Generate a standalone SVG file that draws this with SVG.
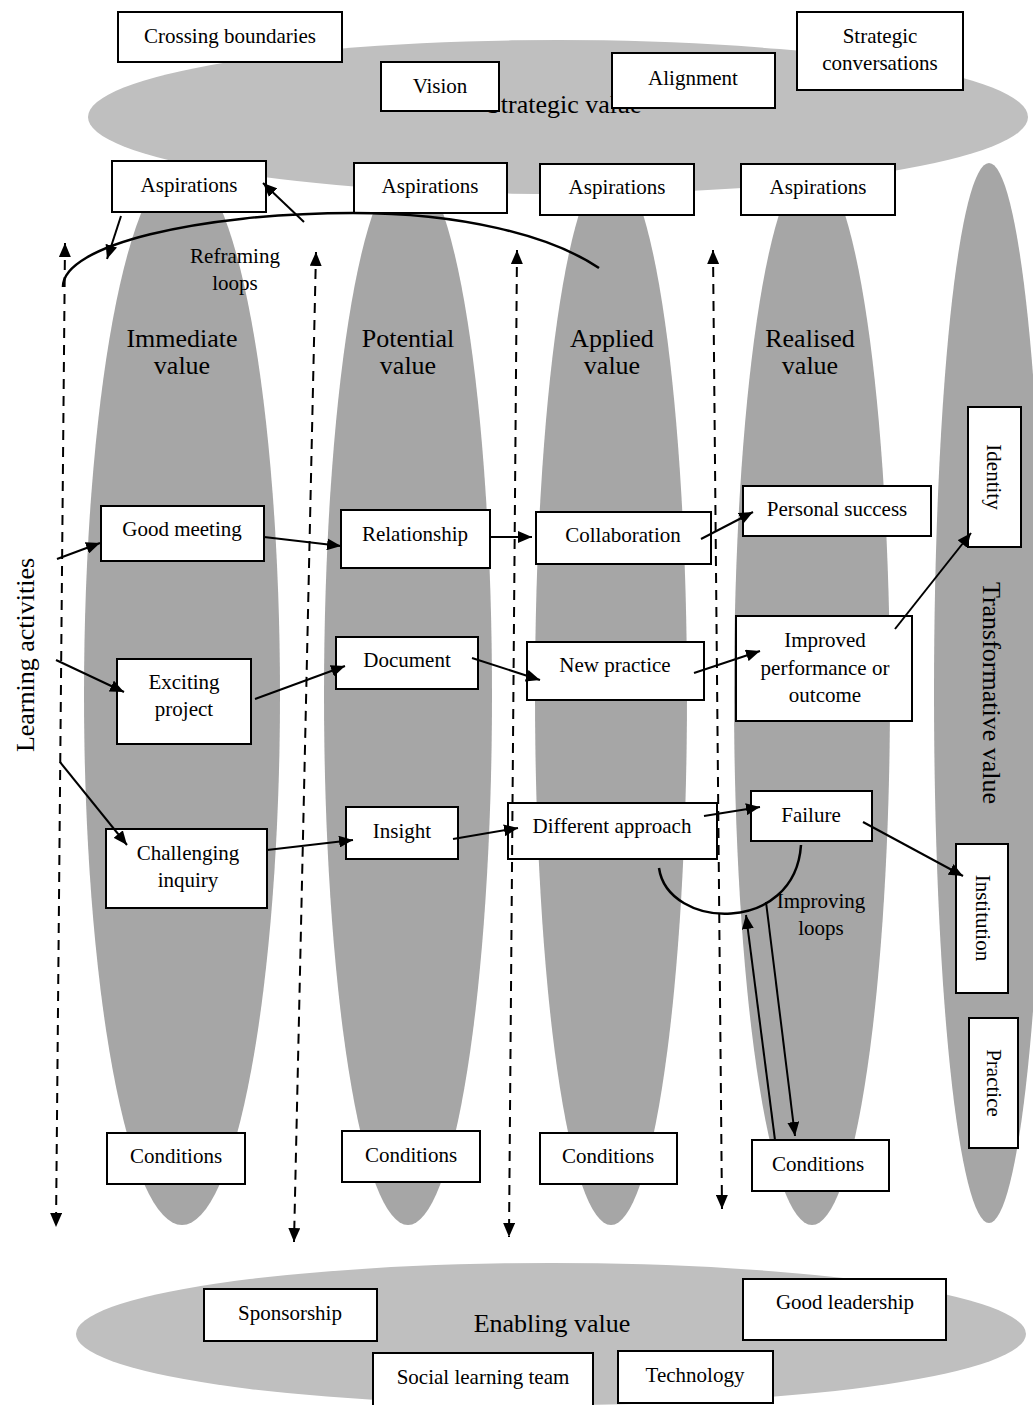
<svg xmlns="http://www.w3.org/2000/svg" width="1033" height="1405" viewBox="0 0 1033 1405">
  <defs>
    <style>
      .band { fill: #bfbfbf; }
      .col { fill: #a6a6a6; }
      .node rect { fill: #ffffff; stroke: #000000; stroke-width: 2; }
      text { font-family: "Liberation Serif", "Times New Roman", serif; fill: #000000; }
      .t { font-size: 21px; text-anchor: middle; }
      .big { font-size: 26px; text-anchor: middle; }
      .ln { fill: none; stroke: #000000; stroke-width: 2; }
      .arc { fill: none; stroke: #000000; stroke-width: 2.5; }
      .dash { stroke-dasharray: 10 7; }
    </style>
    <marker id="head" markerUnits="userSpaceOnUse" markerWidth="14" markerHeight="12" refX="14" refY="6" orient="auto-start-reverse">
      <path d="M0,0 L14,6 L0,12 z" fill="#000000"/>
    </marker>
  </defs>

  <rect width="1033" height="1405" fill="#ffffff"/>

  <!-- value bands -->
  <g id="bands">
    <ellipse class="band" cx="558" cy="117" rx="470" ry="77"/>
    <ellipse class="band" cx="551" cy="1334" rx="475" ry="71"/>
    <ellipse class="col" cx="182" cy="695" rx="98" ry="530"/>
    <ellipse class="col" cx="408" cy="695" rx="84" ry="530"/>
    <ellipse class="col" cx="611" cy="695" rx="76" ry="530"/>
    <ellipse class="col" cx="812" cy="695" rx="78" ry="530"/>
    <ellipse class="col" cx="989" cy="693" rx="55" ry="530"/>
  </g>

  <!-- band titles -->
  <g id="band-labels">
    <text class="big" x="564" y="113">Strategic value</text>
    <text class="big" x="552" y="1332">Enabling value</text>
    <text class="big" x="182" y="347">Immediate<tspan x="182" dy="27">value</tspan></text>
    <text class="big" x="408" y="347">Potential<tspan x="408" dy="27">value</tspan></text>
    <text class="big" x="612" y="347">Applied<tspan x="612" dy="27">value</tspan></text>
    <text class="big" x="810" y="347">Realised<tspan x="810" dy="27">value</tspan></text>
    <text class="big" transform="translate(983,693) rotate(90)">Transformative value</text>
    <text class="big" transform="translate(34,655) rotate(-90)">Learning activities</text>
    <text class="t" x="235" y="263">Reframing<tspan x="235" dy="27">loops</tspan></text>
    <text class="t" x="821" y="908">Improving<tspan x="821" dy="27">loops</tspan></text>
  </g>

  <!-- strategic band -->
  <g id="crossing-boundaries" class="node"><rect x="118" y="12" width="224" height="50"/><text class="t" x="230" y="43">Crossing boundaries</text></g>
  <g id="vision" class="node"><rect x="381" y="62" width="118" height="49"/><text class="t" x="440" y="93">Vision</text></g>
  <g id="alignment" class="node"><rect x="612" y="53" width="163" height="55"/><text class="t" x="693" y="85">Alignment</text></g>
  <g id="strategic-conversations" class="node"><rect x="797" y="12" width="166" height="78"/><text class="t" x="880" y="43">Strategic<tspan x="880" dy="27">conversations</tspan></text></g>

  <!-- aspirations -->
  <g id="aspirations-1" class="node"><rect x="112" y="161" width="154" height="51"/><text class="t" x="189" y="192">Aspirations</text></g>
  <g id="aspirations-2" class="node"><rect x="354" y="163" width="153" height="50"/><text class="t" x="430" y="193">Aspirations</text></g>
  <g id="aspirations-3" class="node"><rect x="540" y="164" width="154" height="51"/><text class="t" x="617" y="194">Aspirations</text></g>
  <g id="aspirations-4" class="node"><rect x="741" y="164" width="154" height="51"/><text class="t" x="818" y="194">Aspirations</text></g>

  <!-- value chain -->
  <g id="good-meeting" class="node"><rect x="101" y="506" width="163" height="55"/><text class="t" x="182" y="536">Good meeting</text></g>
  <g id="relationship" class="node"><rect x="341" y="510" width="149" height="58"/><text class="t" x="415" y="541">Relationship</text></g>
  <g id="collaboration" class="node"><rect x="536" y="512" width="175" height="52"/><text class="t" x="623" y="542">Collaboration</text></g>
  <g id="personal-success" class="node"><rect x="743" y="486" width="188" height="50"/><text class="t" x="837" y="516">Personal success</text></g>

  <g id="exciting-project" class="node"><rect x="117" y="659" width="134" height="85"/><text class="t" x="184" y="689">Exciting<tspan x="184" dy="27">project</tspan></text></g>
  <g id="document" class="node"><rect x="336" y="637" width="142" height="52"/><text class="t" x="407" y="667">Document</text></g>
  <g id="new-practice" class="node"><rect x="527" y="642" width="177" height="58"/><text class="t" x="615" y="672">New practice</text></g>
  <g id="improved-performance" class="node"><rect x="736" y="616" width="176" height="105"/><text class="t" x="825" y="647">Improved<tspan x="825" dy="28">performance or</tspan><tspan x="825" dy="27">outcome</tspan></text></g>

  <g id="challenging-inquiry" class="node"><rect x="106" y="829" width="161" height="79"/><text class="t" x="188" y="860">Challenging<tspan x="188" dy="27">inquiry</tspan></text></g>
  <g id="insight" class="node"><rect x="346" y="807" width="112" height="52"/><text class="t" x="402" y="838">Insight</text></g>
  <g id="different-approach" class="node"><rect x="508" y="803" width="209" height="56"/><text class="t" x="612" y="833">Different approach</text></g>
  <g id="failure" class="node"><rect x="751" y="791" width="121" height="50"/><text class="t" x="811" y="822">Failure</text></g>

  <!-- transformative column -->
  <g id="identity" class="node"><rect x="968" y="407" width="53" height="140"/><text class="t" transform="translate(987,477) rotate(90)">Identity</text></g>
  <g id="institution" class="node"><rect x="956" y="844" width="52" height="149"/><text class="t" transform="translate(976,918) rotate(90)">Institution</text></g>
  <g id="practice" class="node"><rect x="969" y="1018" width="49" height="130"/><text class="t" transform="translate(987,1083) rotate(90)">Practice</text></g>

  <!-- conditions -->
  <g id="conditions-1" class="node"><rect x="107" y="1133" width="138" height="51"/><text class="t" x="176" y="1163">Conditions</text></g>
  <g id="conditions-2" class="node"><rect x="342" y="1131" width="138" height="51"/><text class="t" x="411" y="1162">Conditions</text></g>
  <g id="conditions-3" class="node"><rect x="540" y="1133" width="137" height="51"/><text class="t" x="608" y="1163">Conditions</text></g>
  <g id="conditions-4" class="node"><rect x="752" y="1140" width="137" height="51"/><text class="t" x="818" y="1171">Conditions</text></g>

  <!-- enabling band -->
  <g id="sponsorship" class="node"><rect x="204" y="1289" width="173" height="52"/><text class="t" x="290" y="1320">Sponsorship</text></g>
  <g id="good-leadership" class="node"><rect x="743" y="1279" width="203" height="61"/><text class="t" x="845" y="1309">Good leadership</text></g>
  <g id="social-learning-team" class="node"><rect x="373" y="1353" width="220" height="56"/><text class="t" x="483" y="1384">Social learning team</text></g>
  <g id="technology" class="node"><rect x="618" y="1351" width="155" height="52"/><text class="t" x="695" y="1382">Technology</text></g>

  <!-- connectors -->
  <g id="connectors">
    <!-- learning activity timelines -->
    <path class="ln dash" d="M65,243 L56,1227" marker-start="url(#head)" marker-end="url(#head)"/>
    <path class="ln dash" d="M316,252 L294,1242" marker-start="url(#head)" marker-end="url(#head)"/>
    <path class="ln dash" d="M517,250 L509,1237" marker-start="url(#head)" marker-end="url(#head)"/>
    <path class="ln dash" d="M713,250 L722,1209" marker-start="url(#head)" marker-end="url(#head)"/>

    <!-- reframing loop -->
    <path class="arc" d="M63,287 C62,245 200,213 353,213 C460,213 550,235 599,268"/>
    <path class="ln" d="M121,216 L107,259" marker-end="url(#head)"/>
    <path class="ln" d="M304,222 L263,183" marker-end="url(#head)"/>

    <!-- entry points -->
    <path class="ln" d="M57,559 L100,543" marker-end="url(#head)"/>
    <path class="ln" d="M56,660 L124,692" marker-end="url(#head)"/>
    <path class="ln" d="M60,762 L127,845" marker-end="url(#head)"/>

    <!-- top row -->
    <path class="ln" d="M264,537 L341,546" marker-end="url(#head)"/>
    <path class="ln" d="M490,537 L532,537" marker-end="url(#head)"/>
    <path class="ln" d="M701,539 L753,512" marker-end="url(#head)"/>

    <!-- middle row -->
    <path class="ln" d="M255,699 L345,666" marker-end="url(#head)"/>
    <path class="ln" d="M472,658 L540,680" marker-end="url(#head)"/>
    <path class="ln" d="M694,673 L760,651" marker-end="url(#head)"/>
    <path class="ln" d="M895,629 L971,533" marker-end="url(#head)"/>

    <!-- bottom row -->
    <path class="ln" d="M267,850 L353,840" marker-end="url(#head)"/>
    <path class="ln" d="M453,839 L518,828" marker-end="url(#head)"/>
    <path class="ln" d="M704,816 L760,807" marker-end="url(#head)"/>
    <path class="ln" d="M863,822 L963,876" marker-end="url(#head)"/>

    <!-- improving loop -->
    <path class="arc" d="M659,868 C668,930 795,935 801,845"/>
    <path class="ln" d="M775,1140 L746,915" marker-end="url(#head)"/>
    <path class="ln" d="M766,902 L795,1136" marker-end="url(#head)"/>
  </g>
</svg>
